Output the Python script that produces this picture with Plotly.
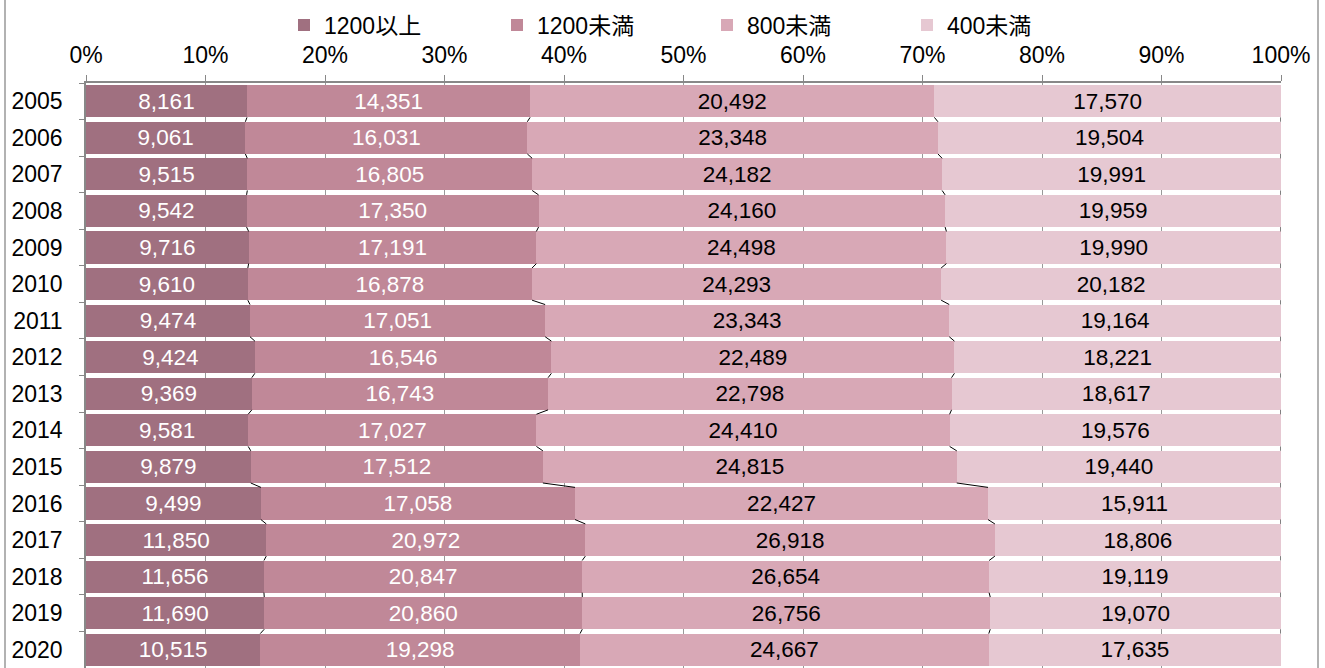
import numpy as np
import plotly.graph_objects as go

years = ["2005", "2006", "2007", "2008", "2009", "2010", "2011", "2012",
         "2013", "2014", "2015", "2016", "2017", "2018", "2019", "2020"]
series_names = ["1200以上", "1200未満", "800未満", "400未満"]
s_1200_over = [8161, 9061, 9515, 9542, 9716, 9610, 9474, 9424, 9369, 9581, 9879, 9499, 11850, 11656, 11690, 10515]
s_1200_under = [14351, 16031, 16805, 17350, 17191, 16878, 17051, 16546, 16743, 17027, 17512, 17058, 20972, 20847, 20860, 19298]
s_800_under = [20492, 23348, 24182, 24160, 24498, 24293, 23343, 22489, 22798, 24410, 24815, 22427, 26918, 26654, 26756, 24667]
s_400_under = [17570, 19504, 19991, 19959, 19990, 20182, 19164, 18221, 18617, 19576, 19440, 15911, 18806, 19119, 19070, 17635]
tick_vals_x = [0, 10, 20, 30, 40, 50, 60, 70, 80, 90, 100]
tick_text_x = [f"{v}%" for v in tick_vals_x]

colors = ["#A07080", "#C08898", "#D8A8B6", "#E6C8D2"]
text_colors = ["white", "white", "black", "black"]
FONT = "Liberation Sans, Arial, Noto Sans CJK JP, sans-serif"

data = np.array([s_1200_over, s_1200_under, s_800_under, s_400_under], dtype=float)
pct = data / data.sum(axis=0) * 100
cum = np.cumsum(pct, axis=0)
ypos = np.arange(len(years))
BW = 0.88

W, H = 1325, 668
ml, mr, mt, mb = 86, 44, 83, 0
pw = W - ml - mr
ph = H - mt - mb

legend_ids = ["legend", "legend2", "legend3", "legend4"]
legend_px = [284, 497, 707, 907]

fig = go.Figure()
for k, name in enumerate(series_names):
    fig.add_trace(go.Bar(
        y=ypos, x=pct[k], orientation="h", name=name,
        marker=dict(color=colors[k], line=dict(width=0)),
        width=BW,
        text=[f"{int(v):,}" for v in data[k]],
        textposition="inside", insidetextanchor="middle",
        textfont=dict(family=FONT, size=22.5, color=text_colors[k]),
        constraintext="none", hoverinfo="skip",
        legend=legend_ids[k],
    ))

# series lines connecting segment boundaries between consecutive bars
lx, ly = [], []
for k in range(cum.shape[0]):
    for i in range(len(years) - 1):
        lx += [cum[k, i], cum[k, i + 1], None]
        ly += [i + BW / 2, i + 1 - BW / 2, None]
fig.add_trace(go.Scatter(x=lx, y=ly, mode="lines", line=dict(color="black", width=1),
                         showlegend=False, hoverinfo="skip"))

legend_common = dict(orientation="h", xanchor="left", y=1 + (mt - 25) / ph, yanchor="middle",
                     font=dict(family=FONT, size=23, color="black"), itemwidth=30,
                     bgcolor="rgba(0,0,0,0)")
legend_layout = {}
for lid, px in zip(legend_ids, legend_px):
    legend_layout[lid] = dict(x=(px - ml) / pw, **legend_common)

fig.update_layout(
    width=W, height=H, barmode="stack",
    margin=dict(l=ml, r=mr, t=mt, b=mb, pad=0, autoexpand=False),
    plot_bgcolor="white", paper_bgcolor="white",
    font=dict(family=FONT, size=23, color="black"),
    showlegend=True,
    xaxis=dict(side="top", range=[0, 100], tickvals=tick_vals_x, ticktext=tick_text_x,
               showgrid=True, gridcolor="#999999", gridwidth=1,
               showline=True, linecolor="#888888", linewidth=1.5,
               ticks="outside", ticklen=6, tickcolor="#888888",
               tickfont=dict(family=FONT, size=23, color="black"), zeroline=False,
               ticklabelstandoff=3, automargin=False, fixedrange=True),
    yaxis=dict(range=[len(years) - 0.5, -0.5], tickvals=list(ypos), ticktext=years,
               showgrid=False, showline=True, linecolor="#888888", linewidth=1.5,
               ticks="", tickfont=dict(family=FONT, size=23, color="black"),
               zeroline=False, ticklabelstandoff=17, automargin=False,
               minor=dict(tickvals=list(ypos[:-1] + 0.5) + [-0.5], ticks="outside",
                          ticklen=5, tickcolor="#888888", showgrid=False),
               fixedrange=True),
    **legend_layout,
)

# chart area border (left and right edges visible)
for xpx in (5, 1318):
    fig.add_shape(type="line", xref="paper", yref="paper",
                  x0=(xpx - ml) / pw, x1=(xpx - ml) / pw, y0=-0.1, y1=1 + mt / ph + 0.1,
                  line=dict(color="#999999", width=1.5))

fig.write_html("out.html", config={"displayModeBar": False},
               post_script="document.body.style.margin='0';document.body.style.overflow='hidden';")
